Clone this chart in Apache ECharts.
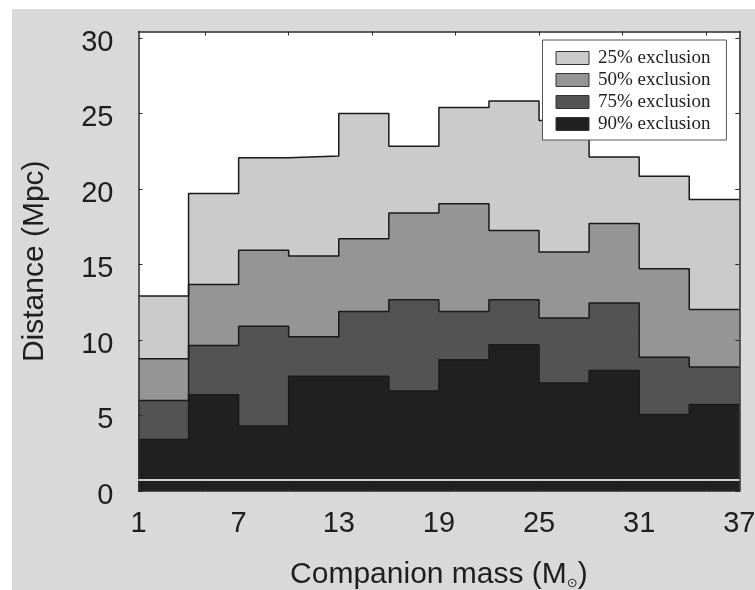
<!DOCTYPE html>
<html>
<head>
<meta charset="utf-8">
<script src="https://cdn.jsdelivr.net/npm/echarts@6/dist/echarts.min.js"></script>
<style>
  html, body { margin: 0; padding: 0; background: #ffffff; }
  #wrap { position: relative; width: 755px; height: 590px; overflow: hidden; }
  #panel { position: absolute; left: 12px; top: 9px; right: 0; bottom: 0; background: #d9d9d9; }
  #chart { position: absolute; left: 0; top: 0; width: 755px; height: 590px; }
</style>
</head>
<body>
<div id="wrap">
  <div id="panel"></div>
  <div id="chart"></div>
</div>
<script>
// Companion-mass bin edges (M_sun) and exclusion distances (Mpc) per bin
const massEdges = [1, 4, 7, 10, 13, 16, 19, 22, 25, 28, 31, 34, 37];
const excl25 = [12.92, 19.71, 22.09, 22.20, 25.01, 22.85, 25.41, 25.85, 24.55, 22.14, 20.86, 19.31];
const excl50 = [8.77, 13.69, 15.95, 15.57, 16.72, 18.42, 19.04, 17.27, 15.84, 17.72, 14.73, 12.02];
const excl75 = [6.00, 9.65, 10.91, 10.22, 11.90, 12.68, 11.90, 12.68, 11.46, 12.46, 8.87, 8.21];
const excl90 = [3.42, 6.38, 4.30, 7.61, 7.61, 6.62, 8.70, 9.69, 7.15, 7.99, 5.07, 5.74];
const seriesNames = ['25% exclusion', '50% exclusion', '75% exclusion', '90% exclusion'];
const seriesValues = [excl25, excl50, excl75, excl90];
const fillColors = ['#cbcbcb', '#959595', '#535353', '#202020'];

const xLabelValues = [1, 7, 13, 19, 25, 31, 37];
const xTickValues = [5, 10, 15, 20, 25, 30, 35];
const yTickValues = [0, 5, 10, 15, 20, 25, 30];
const floorLineValue = 0.73;

// step outline: each bin value starts at its left edge, last value closes at the right edge
function stepPoints(values) {
  const pts = values.map((v, i) => [massEdges[i], v]);
  pts.push([massEdges[massEdges.length - 1], values[values.length - 1]]);
  return pts;
}

const frameColor = '#2a2a2a';
const sansFont = 'Liberation Sans';
const textColor = '#1e1e1e';

const chart = echarts.init(document.getElementById('chart'), null, { renderer: 'canvas' });

const series = seriesValues.map((vals, i) => ({
  name: seriesNames[i],
  type: 'line',
  step: 'end',
  data: stepPoints(vals),
  showSymbol: false,
  symbol: 'none',
  xAxisIndex: 0,
  yAxisIndex: 0,
  itemStyle: { color: fillColors[i] },
  lineStyle: { color: '#1a1a1a', width: 1.5 },
  areaStyle: { color: fillColors[i], opacity: 1 },
  emphasis: { disabled: true },
  silent: true,
  z: 2
}));

series[3].markLine = {
  silent: true,
  z: 20,
  symbol: 'none',
  label: { show: false },
  emphasis: { disabled: true },
  lineStyle: { color: '#d0d0d0', width: 2, type: 'solid', opacity: 1 },
  data: [{ yAxis: floorLineValue }]
};

const option = {
  animation: false,
  backgroundColor: 'transparent',
  grid: {
    left: 138.5, right: 15.7, top: 31.5, bottom: 99,
    outerBoundsMode: 'none',
    containLabel: false,
    show: true, backgroundColor: '#ffffff', borderWidth: 0
  },
  legend: {
    orient: 'vertical',
    left: 542.5,
    top: 40,
    padding: [8.5, 16, 6.5, 13],
    itemGap: 3,
    itemWidth: 33,
    itemHeight: 13,
    icon: 'rect',
    backgroundColor: '#ffffff',
    borderColor: '#555555',
    borderWidth: 1,
    itemStyle: { borderColor: '#333333', borderWidth: 1 },
    textStyle: {
      fontFamily: 'Liberation Serif',
      fontSize: 19,
      lineHeight: 18,
      color: '#222222',
      padding: [0, 0, 0, 4]
    },
    selectedMode: false,
    data: seriesNames
  },
  xAxis: [
    {
      type: 'value', min: 1, max: 37, position: 'bottom', z: 10,
      axisLine: { show: true, onZero: false, lineStyle: { color: frameColor, width: 1.5 } },
      axisTick: { show: true, inside: true, length: 4, customValues: xTickValues, lineStyle: { color: frameColor } },
      axisLabel: { customValues: xLabelValues, fontFamily: sansFont, fontSize: 29, color: textColor, margin: 18 },
      splitLine: { show: false },
      name: 'Companion mass (M{sub|⊙})',
      nameLocation: 'middle',
      nameGap: 69,
      nameTextStyle: {
        fontFamily: sansFont, fontSize: 30, color: textColor,
        rich: { sub: { fontFamily: 'DejaVu Sans', fontSize: 13, color: textColor, verticalAlign: 'bottom' } }
      }
    },
    {
      type: 'value', min: 1, max: 37, position: 'top', z: 10,
      axisLine: { show: true, onZero: false, lineStyle: { color: frameColor, width: 1.5 } },
      axisTick: { show: true, inside: true, length: 4, customValues: xTickValues, lineStyle: { color: frameColor } },
      axisLabel: { show: false },
      splitLine: { show: false }
    }
  ],
  yAxis: [
    {
      type: 'value', min: 0, max: 30.45, position: 'left', z: 10,
      axisLine: { show: true, onZero: false, lineStyle: { color: frameColor, width: 1.5 } },
      axisTick: { show: true, inside: true, length: 4, customValues: yTickValues, lineStyle: { color: frameColor } },
      axisLabel: {
        customValues: yTickValues, margin: 25,
        formatter: '{v|{value}}',
        rich: { v: { fontFamily: sansFont, fontSize: 29, color: textColor, padding: [9, 0, 0, 0] } }
      },
      splitLine: { show: false },
      name: 'Distance (Mpc)',
      nameLocation: 'middle',
      nameRotate: 90,
      nameGap: 89,
      nameTextStyle: { fontFamily: sansFont, fontSize: 30, color: textColor }
    },
    {
      type: 'value', min: 0, max: 30.45, position: 'right', z: 10,
      axisLine: { show: true, onZero: false, lineStyle: { color: frameColor, width: 1.5 } },
      axisTick: { show: true, inside: true, length: 4, customValues: yTickValues, lineStyle: { color: frameColor } },
      axisLabel: { show: false },
      splitLine: { show: false }
    }
  ],
  series: series
};

chart.setOption(option);
</script>
</body>
</html>
